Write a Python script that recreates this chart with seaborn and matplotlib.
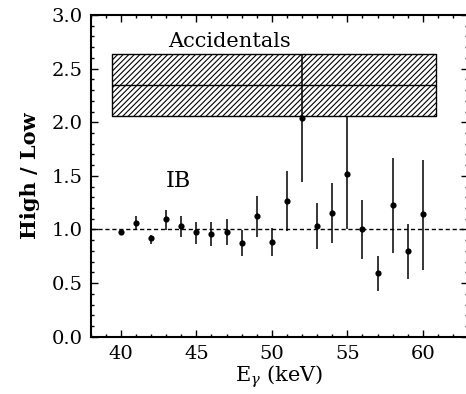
import matplotlib
matplotlib.use("Agg")
import matplotlib.pyplot as plt
import seaborn as sns
import pandas as pd
from matplotlib.ticker import MultipleLocator

# IB high/low ratio per photon energy bin
energy = [40, 41, 42, 43, 44, 45, 46, 47, 48, 49, 50,
          51, 52, 53, 54, 55, 56, 57, 58, 59, 60]
ratio = [0.975, 1.062, 0.923, 1.093, 1.028, 0.975, 0.960, 0.975, 0.873, 1.124, 0.885,
         1.264, 2.036, 1.034, 1.155, 1.521, 1.003, 0.593, 1.230, 0.795, 1.140]
ratio_lo = [0.965, 0.997, 0.867, 0.997, 0.928, 0.867, 0.845, 0.851, 0.749, 0.930, 0.755,
            0.984, 1.447, 0.820, 0.872, 1.003, 0.724, 0.426, 0.780, 0.540, 0.620]
ratio_hi = [0.985, 1.121, 0.953, 1.177, 1.121, 1.068, 1.068, 1.093, 0.997, 1.310, 1.016,
            1.543, 2.640, 1.245, 1.431, 2.060, 1.277, 0.755, 1.667, 1.050, 1.652]

# accidentals band
acc_x = [39.4, 60.85]
acc_mid = 2.345
acc_lo = 2.06
acc_hi = 2.64

df = pd.DataFrame({"E": energy, "ratio": ratio})

sns.set_style("ticks")
plt.rcParams["font.family"] = ["DejaVu Serif"]
plt.rcParams["mathtext.fontset"] = "dejavuserif"
plt.rcParams["hatch.linewidth"] = 0.8
for key in ["text.color", "axes.labelcolor", "xtick.color", "ytick.color", "axes.edgecolor"]:
    plt.rcParams[key] = "black"

fig = plt.figure(figsize=(4.66, 3.94), dpi=100)
ax = fig.add_axes([90.7 / 466, 57.3 / 394, 377.4 / 466, 321.7 / 394])

# accidentals box
ax.fill_between(acc_x, [acc_lo] * 2, [acc_hi] * 2, facecolor="none",
                edgecolor="black", hatch="//////", linewidth=1.0, zorder=1)
ax.hlines(acc_mid, acc_x[0], acc_x[1], color="black", linewidth=1.0, zorder=2)

# unity line
ax.axhline(1.0, color="black", linestyle=(0, (3, 2)), linewidth=1.0, zorder=2)

# error bars + points
ax.vlines(energy, ratio_lo, ratio_hi, color="black", linewidth=1.1, zorder=3)
sns.scatterplot(data=df, x="E", y="ratio", ax=ax, color="black", s=20,
                edgecolor="black", linewidth=0, zorder=4, legend=False)

ax.text(47.2, 2.70, "Accidentals", fontsize=15, ha="center", va="baseline")
ax.text(43.8, 1.40, "IB", fontsize=16, ha="center", va="baseline")

ax.set_xlim(38, 63)
ax.set_ylim(0, 3.0)
ax.xaxis.set_major_locator(MultipleLocator(5))
ax.xaxis.set_minor_locator(MultipleLocator(1))
ax.yaxis.set_major_locator(MultipleLocator(0.5))
ax.yaxis.set_minor_locator(MultipleLocator(0.1))
ax.yaxis.set_major_formatter(matplotlib.ticker.FormatStrFormatter("%.1f"))

ax.tick_params(which="both", direction="in", top=True, right=True, width=1.0)
ax.tick_params(which="major", length=5, labelsize=14, pad=6)
ax.tick_params(which="minor", length=2.5)
for s in ax.spines.values():
    s.set_linewidth(1.5)

ax.set_xlabel(r"E$_\gamma$ (keV)", fontsize=15, labelpad=0)
ax.set_ylabel("High / Low", fontsize=15, fontweight="bold", labelpad=8)

plt.savefig("out.png", dpi=100)
